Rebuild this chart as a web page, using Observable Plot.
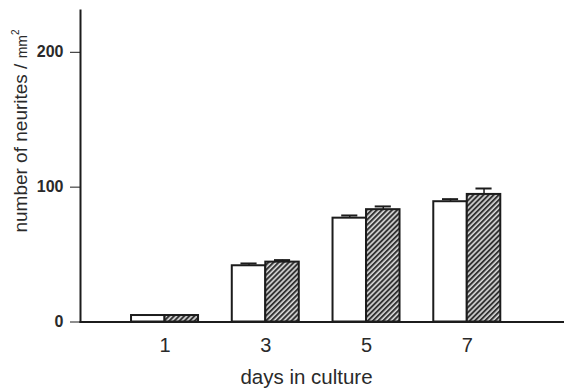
<!DOCTYPE html>
<html>
<head>
<meta charset="utf-8">
<script src="https://cdn.jsdelivr.net/npm/d3@7"></script>
<script src="https://cdn.jsdelivr.net/npm/@observablehq/plot@0.6"></script>
<style>
  html, body { margin: 0; padding: 0; background: #fff; }
  #chart { width: 564px; height: 388px; }
</style>
</head>
<body>
<div id="chart"></div>
<script>
// Data
const days = [1, 3, 5, 7];
const controlValues = [4.8, 41.7, 77, 89.2];
const controlErrors = [0, 1.7, 2, 1.9];
const treatedValues = [4.8, 44.4, 83.3, 94.6];
const treatedErrors = [0, 1.5, 2.4, 4.4];
const yTicks = [0, 100, 200];
const xLabel = "days in culture";
const yLabelMain = "number of neurites / ";
const yLabelUnit = "mm";
const yLabelSup = "2";

const barW = 0.665;   // bar width in day units
const capW = 0.16;    // half cap width in day units
const ink = "#1c1c1c";
const font = "'Liberation Sans', Arial, Helvetica, sans-serif";

const control = days.map((d, i) => ({day: d, value: controlValues[i], err: controlErrors[i]}));
const treated = days.map((d, i) => ({day: d, value: treatedValues[i], err: treatedErrors[i]}));

const cx = d => d.day - barW / 2;   // centre of control bar
const tx = d => d.day + barW / 2;   // centre of treated bar

const plot = Plot.plot({
  width: 564,
  height: 388,
  marginLeft: 80,
  marginRight: 0,
  marginTop: 10,
  marginBottom: 66.5,
  style: {fontFamily: font, color: "#2a2a2a", background: "#fff"},
  x: {type: "linear", domain: [-0.678, 8.93]},
  y: {domain: [0, 231]},
  marks: [
    // error bars (upper only)
    Plot.ruleX(control.filter(d => d.err > 0), {x: cx, y1: "value", y2: d => d.value + d.err, stroke: ink, strokeWidth: 1.5}),
    Plot.ruleY(control.filter(d => d.err > 0), {y: d => d.value + d.err, x1: d => cx(d) - capW, x2: d => cx(d) + capW, stroke: ink, strokeWidth: 2}),
    Plot.ruleX(treated.filter(d => d.err > 0), {x: tx, y1: "value", y2: d => d.value + d.err, stroke: ink, strokeWidth: 1.5}),
    Plot.ruleY(treated.filter(d => d.err > 0), {y: d => d.value + d.err, x1: d => tx(d) - capW, x2: d => tx(d) + capW, stroke: ink, strokeWidth: 2}),
    // bars
    Plot.rectY(control, {x1: d => d.day - barW, x2: "day", y1: 0, y2: "value", fill: "#fff", stroke: ink, strokeWidth: 2}),
    Plot.rectY(treated, {x1: "day", x2: d => d.day + barW, y1: 0, y2: "value", fill: "url(#hatch)", stroke: ink, strokeWidth: 2}),
    // axes
    Plot.axisY(yTicks, {tickSize: 10, tickPadding: 7, fontSize: 16, fontWeight: "bold", label: null, stroke: ink}),
    Plot.axisX(days, {tickSize: 0, tickPadding: 16, fontSize: 20, label: null}),
    Plot.frame({anchor: "left", stroke: ink, strokeWidth: 2}),
    Plot.frame({anchor: "bottom", stroke: ink, strokeWidth: 2}),
    Plot.text([xLabel], {frameAnchor: "bottom", dx: -16, dy: 55.5, lineAnchor: "middle", fontSize: 20.5, fill: "#2a2a2a"})
  ]
});

// hatch pattern definition
const svg = d3.select(plot);
const defs = svg.insert("defs", ":first-child");
const pat = defs.append("pattern")
  .attr("id", "hatch")
  .attr("patternUnits", "userSpaceOnUse")
  .attr("width", 3.6)
  .attr("height", 3.6)
  .attr("patternTransform", "rotate(45)");
pat.append("rect").attr("width", 3.6).attr("height", 3.6).attr("fill", "#dadada");
pat.append("line").attr("x1", 1).attr("y1", 0).attr("x2", 1).attr("y2", 3.6)
  .attr("stroke", "#333").attr("stroke-width", 2);

// rotated y-axis label with superscript unit
const yl = svg.append("text")
  .attr("transform", "translate(27,131) rotate(-90)")
  .attr("text-anchor", "middle")
  .attr("font-family", font)
  .attr("font-size", 19)
  .attr("fill", "#2a2a2a");
yl.append("tspan").text(yLabelMain);
yl.append("tspan").attr("font-size", 14).text(yLabelUnit);
yl.append("tspan").attr("font-size", 10).attr("dy", -8).text(yLabelSup);

document.getElementById("chart").appendChild(plot);
</script>
</body>
</html>
